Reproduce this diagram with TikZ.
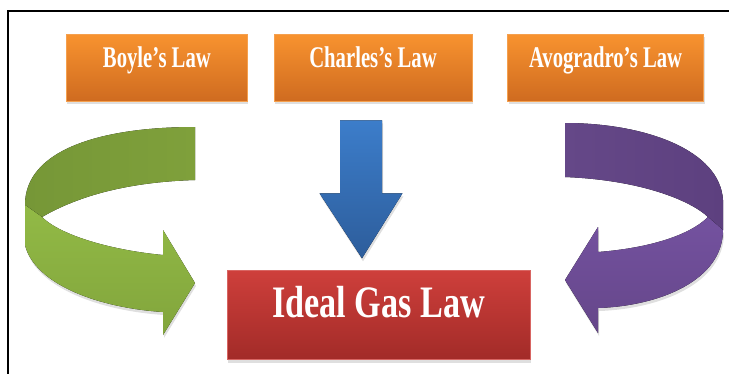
\documentclass[tikz,border=0pt]{standalone}
\usepackage{fontspec}
\setmainfont{Liberation Serif}
\usepackage{graphicx}
\usetikzlibrary{positioning,calc,shadows}

\definecolor{lawtop}{HTML}{F8932F}
\definecolor{lawbot}{HTML}{CF6B20}
\definecolor{lawedge}{HTML}{F5A04E}
\definecolor{gastop}{HTML}{CE3F3B}
\definecolor{gasbot}{HTML}{A22B28}
\definecolor{downtop}{HTML}{3C7DCA}
\definecolor{downbot}{HTML}{2D5D9B}
\definecolor{greenback}{HTML}{769737}
\definecolor{greenbackr}{HTML}{7FA03B}
\definecolor{greenfront}{HTML}{92BA46}
\definecolor{greenfrontb}{HTML}{82A53C}
\definecolor{purpleback}{HTML}{654888}
\definecolor{purplebackr}{HTML}{5D407F}
\definecolor{purplefront}{HTML}{7452A0}
\definecolor{purplefrontb}{HTML}{654689}

\newcommand{\condensed}[2][0.69]{\scalebox{#1}[1]{#2}}

\tikzset{
  softshadow/.style={drop shadow={opacity=0.25, shadow xshift=1pt, shadow yshift=-3pt}},
  law/.style={draw=lawedge, line width=0.6pt, top color=lawtop, bottom color=lawbot,
    minimum height=67pt, inner sep=0pt, text=white, softshadow,
    font=\fontsize{30}{30}\selectfont\bfseries, text height=15pt, text depth=15pt},
  gaslaw/.style={draw=gastop!80!white, line width=0.6pt, top color=gastop, bottom color=gasbot,
    minimum width=303pt, minimum height=89pt, inner sep=0pt, text=white, softshadow,
    font=\fontsize{45}{45}\selectfont\bfseries, text height=25pt, text depth=20pt},
  downarrow/.style={top color=downtop, bottom color=downbot, softshadow},
  backband/.style={left color=#1, right color=#1r},
  frontband/.style={top color=#1front, bottom color=#1frontb, softshadow}
}

\begin{document}
\begin{tikzpicture}[x=1pt, y=-1pt]
    \useasboundingbox (0,0) rectangle (729,373);
    \clip (0,0) rectangle (729,373);
    \draw [line width=1.5pt] (8,11) rectangle (745,395);

    \node (charles) [law, minimum width=198pt] at (373,67.5) {\condensed{Charles’s Law}};
    \node (boyle) [law, minimum width=181pt, left = 26pt of charles] {\condensed{Boyle’s Law}};
    \node (avogadro) [law, minimum width=196pt, right = 35pt of charles] {\condensed{Avogradro’s Law}};
    \node (ideal) [gaslaw, below = 169pt of charles, xshift=5.5pt] {\condensed[0.76]{Ideal Gas Law}};

    % straight arrow from Charles's law down to the ideal gas law
    \coordinate (bt) at ($(charles.south)+(-12,19)$);
    \coordinate (bh) at ($(ideal.north)+(-16.5,-12)$);
    \fill [downarrow] ($(bt)+(-21,0)$) -- ($(bt)+(21,0)$) -- ($(bt)+(21,73)$) -- ($(bt)+(41.5,73)$)
        -- (bh) -- ($(bt)+(-41.5,73)$) -- ($(bt)+(-21,73)$) -- cycle;

    % curved arrow on the left
    \fill [backband=greenback] (195,127) .. controls (100,127) and (25,150) .. (25,205)
        -- (42,217) .. controls (80,195) and (130,182) .. (195,180) -- cycle;
    \fill [frontband=green] (25,205) -- (25,245) .. controls (35,285) and (100,308) .. (163,312)
        -- (163,335) -- (195,283) -- (163,230) -- (163,255)
        .. controls (110,250) and (60,235) .. (42,217) -- cycle;

    % curved arrow on the right
    \fill [backband=purpleback] (565,123) .. controls (645,123) and (720,150) .. (723,200)
        -- (723,230) -- (708,217) .. controls (690,200) and (640,180) .. (565,177) -- cycle;
    \fill [frontband=purple] (723,230) .. controls (723,280) and (660,306) .. (598,308)
        -- (598,333) -- (565,280) -- (598,227) -- (598,252)
        .. controls (650,248) and (690,235) .. (708,217) -- cycle;
\end{tikzpicture}
\end{document}
